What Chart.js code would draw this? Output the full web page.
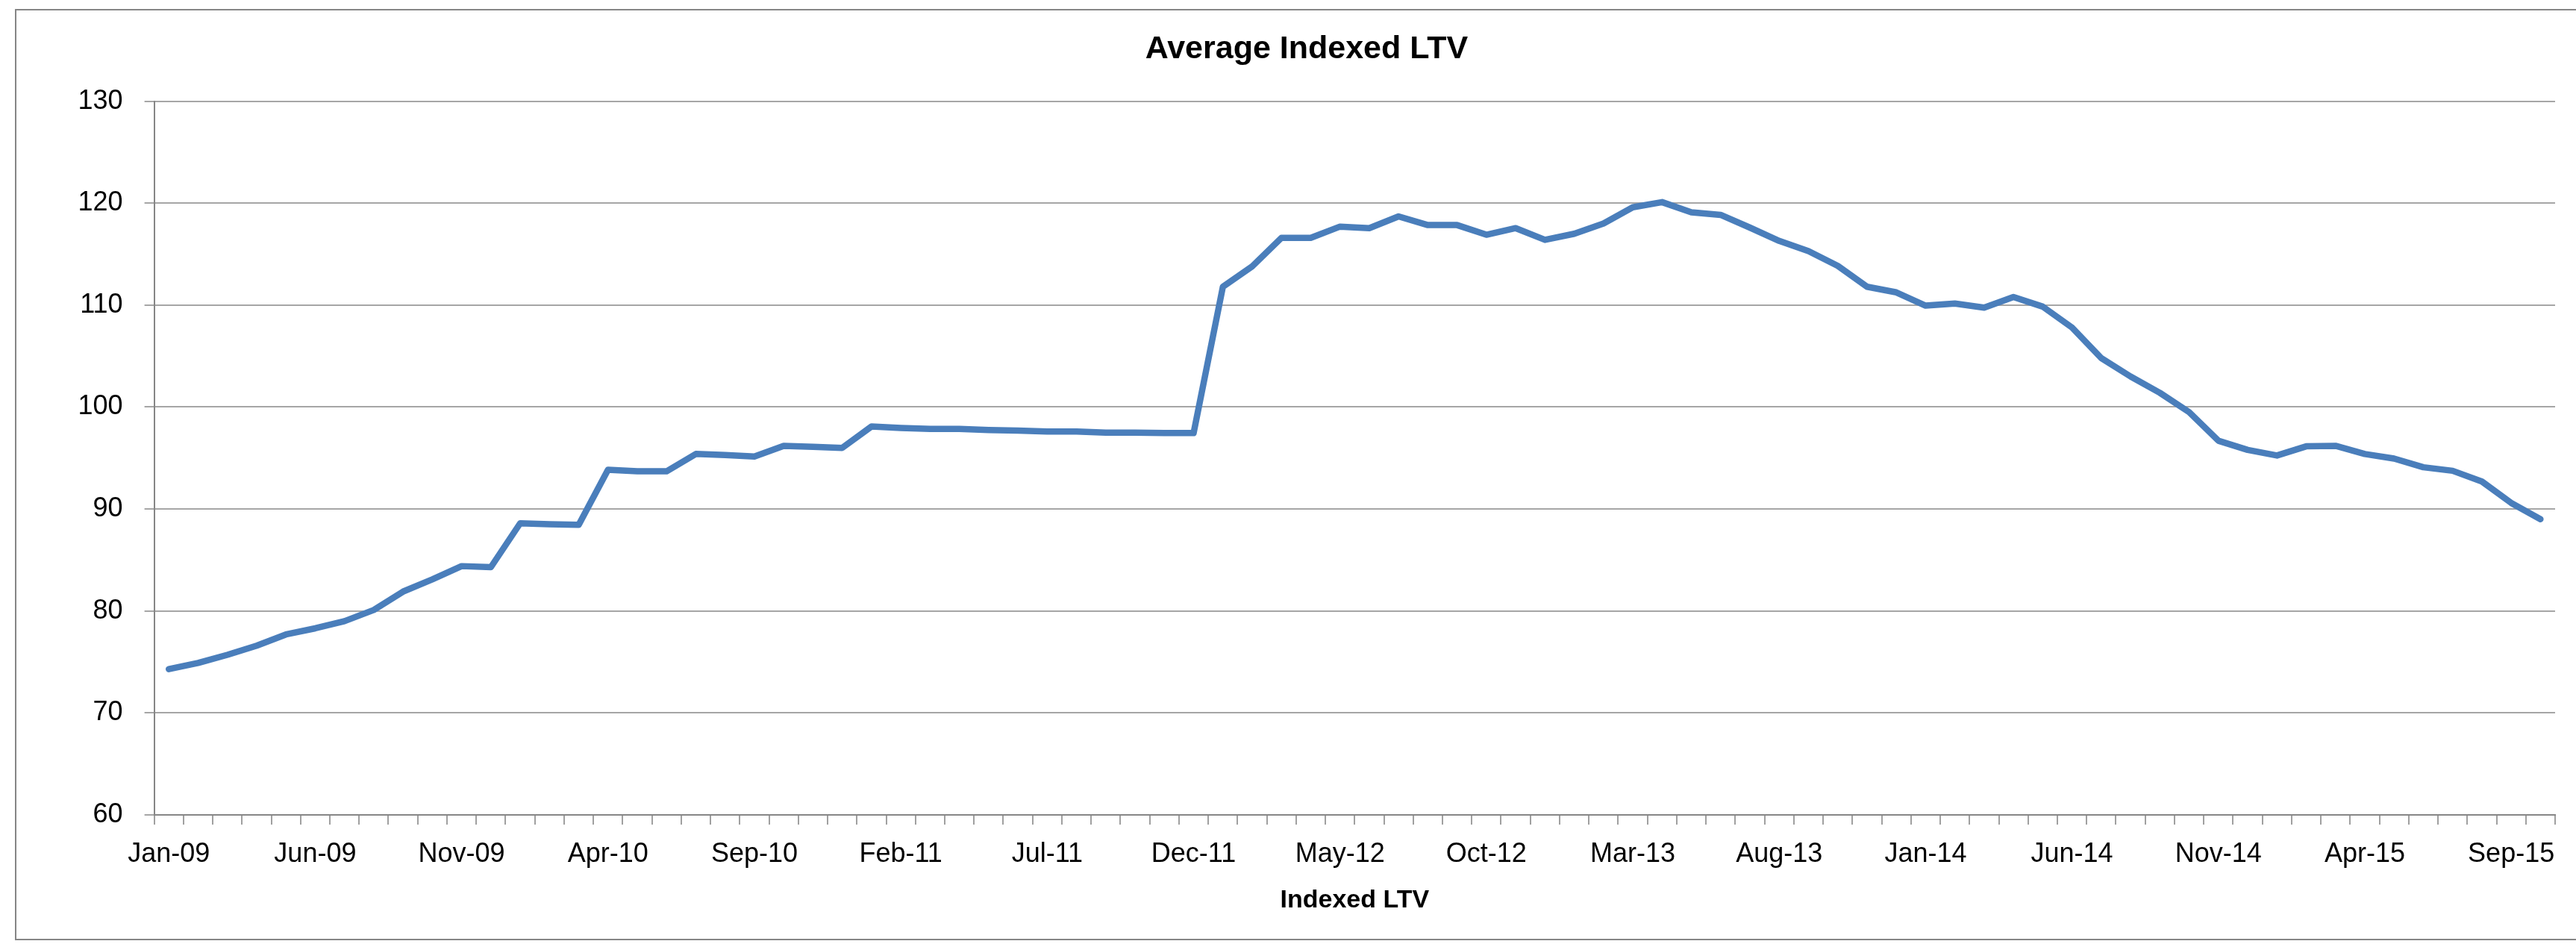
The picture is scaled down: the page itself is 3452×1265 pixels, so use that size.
<!DOCTYPE html>
<html>
<head>
<meta charset="utf-8">
<title>Average Indexed LTV</title>
<script src="https://cdn.jsdelivr.net/npm/chart.js@4.4.1/dist/chart.umd.min.js"></script>
<style>
  html, body { margin: 0; padding: 0; background: #fff; }
  canvas { display: block; }
</style>
</head>
<body>
<canvas id="ltv" width="3452" height="1265"></canvas>
<script>
// monthly categories, Jan-09 .. Oct-15
var months = [
  'Jan-09', 'Feb-09', 'Mar-09', 'Apr-09', 'May-09', 'Jun-09', 'Jul-09', 'Aug-09', 'Sep-09', 'Oct-09', 'Nov-09', 'Dec-09',
  'Jan-10', 'Feb-10', 'Mar-10', 'Apr-10', 'May-10', 'Jun-10', 'Jul-10', 'Aug-10', 'Sep-10', 'Oct-10', 'Nov-10', 'Dec-10',
  'Jan-11', 'Feb-11', 'Mar-11', 'Apr-11', 'May-11', 'Jun-11', 'Jul-11', 'Aug-11', 'Sep-11', 'Oct-11', 'Nov-11', 'Dec-11',
  'Jan-12', 'Feb-12', 'Mar-12', 'Apr-12', 'May-12', 'Jun-12', 'Jul-12', 'Aug-12', 'Sep-12', 'Oct-12', 'Nov-12', 'Dec-12',
  'Jan-13', 'Feb-13', 'Mar-13', 'Apr-13', 'May-13', 'Jun-13', 'Jul-13', 'Aug-13', 'Sep-13', 'Oct-13', 'Nov-13', 'Dec-13',
  'Jan-14', 'Feb-14', 'Mar-14', 'Apr-14', 'May-14', 'Jun-14', 'Jul-14', 'Aug-14', 'Sep-14', 'Oct-14', 'Nov-14', 'Dec-14',
  'Jan-15', 'Feb-15', 'Mar-15', 'Apr-15', 'May-15', 'Jun-15', 'Jul-15', 'Aug-15', 'Sep-15', 'Oct-15'
];

var ltvValues = [
  74.3, 74.9, 75.7, 76.6, 77.7, 78.3, 79.0, 80.1, 81.9, 83.1, 84.4, 84.3,
  88.6, 88.5, 88.45, 93.85, 93.7, 93.7, 95.4, 95.3, 95.15, 96.2, 96.1, 96.0,
  98.1, 97.95, 97.85, 97.85, 97.75, 97.7, 97.6, 97.6, 97.5, 97.5, 97.45, 97.45,
  111.8, 113.8, 116.6, 116.6, 117.7, 117.55, 118.7, 117.85, 117.85, 116.9, 117.55, 116.4,
  117.0, 118.0, 119.6, 120.1, 119.1, 118.85, 117.6, 116.3, 115.3, 113.85, 111.8, 111.25,
  109.95, 110.15, 109.75, 110.8, 109.85, 107.8, 104.8, 103.0, 101.4, 99.5, 96.7, 95.8,
  95.25, 96.15, 96.2, 95.4, 94.95, 94.1, 93.75, 92.7, 90.6, 89.0
];

var yTicks = [60, 70, 80, 90, 100, 110, 120, 130];
var labelEvery = 5;

var fontFamily = '"Liberation Sans", Arial, sans-serif';

// white page and the thin grey chart frame
var frame = {
  id: 'frame',
  beforeDraw: function(chart) {
    var ctx = chart.ctx;
    ctx.save();
    ctx.fillStyle = '#ffffff';
    ctx.fillRect(0, 0, chart.width, chart.height);
    ctx.strokeStyle = '#868686';
    ctx.lineWidth = 2;
    ctx.strokeRect(21, 13, chart.width + 10, 1246);
    ctx.restore();
  }
};

new Chart(document.getElementById('ltv'), {
  type: 'line',
  data: {
    labels: months,
    datasets: [{
      label: 'Indexed LTV',
      data: ltvValues,
      borderColor: '#4a7ebb',
      backgroundColor: '#4a7ebb',
      borderWidth: 8.5,
      pointRadius: 0,
      tension: 0,
      borderJoinStyle: 'round',
      borderCapStyle: 'round',
      fill: false
    }]
  },
  options: {
    responsive: false,
    devicePixelRatio: 1,
    animation: false,
    layout: { padding: { left: 78, right: 28, top: 0, bottom: 0 } },
    plugins: {
      legend: { display: false },
      tooltip: { enabled: false },
      title: {
        display: true,
        text: 'Average Indexed LTV',
        color: '#000',
        font: { family: fontFamily, size: 43, weight: 'bold' },
        padding: { top: 40, bottom: 44 }
      }
    },
    scales: {
      x: {
        offset: true,
        afterFit: function(scale) { scale.height = 173; },
        grid: {
          offset: true,
          drawOnChartArea: false,
          drawTicks: true,
          tickLength: 13,
          color: '#a0a0a0',
          lineWidth: 2
        },
        border: { display: true, color: '#868686', width: 2 },
        ticks: {
          autoSkip: false,
          maxRotation: 0,
          minRotation: 0,
          padding: 18,
          color: '#000',
          font: { family: fontFamily, size: 36 },
          callback: function(val, idx) {
            return idx % labelEvery === 0 ? this.getLabelForValue(val) : '';
          }
        },
        title: {
          display: true,
          text: 'Indexed LTV',
          color: '#000',
          font: { family: fontFamily, size: 34, weight: 'bold' },
          padding: { top: 20, bottom: 38 }
        }
      },
      y: {
        min: yTicks[0],
        max: yTicks[yTicks.length - 1],
        afterFit: function(scale) { scale.width = 128.6; },
        afterBuildTicks: function(axis) {
          axis.ticks = yTicks.map(function(v) { return { value: v }; });
        },
        grid: {
          color: '#a6a6a6',
          lineWidth: 2,
          drawTicks: true,
          tickLength: 13
        },
        border: { display: true, color: '#868686', width: 2 },
        ticks: {
          padding: 29,
          color: '#000',
          font: { family: fontFamily, size: 36 }
        }
      }
    }
  },
  plugins: [frame]
});
</script>
</body>
</html>
